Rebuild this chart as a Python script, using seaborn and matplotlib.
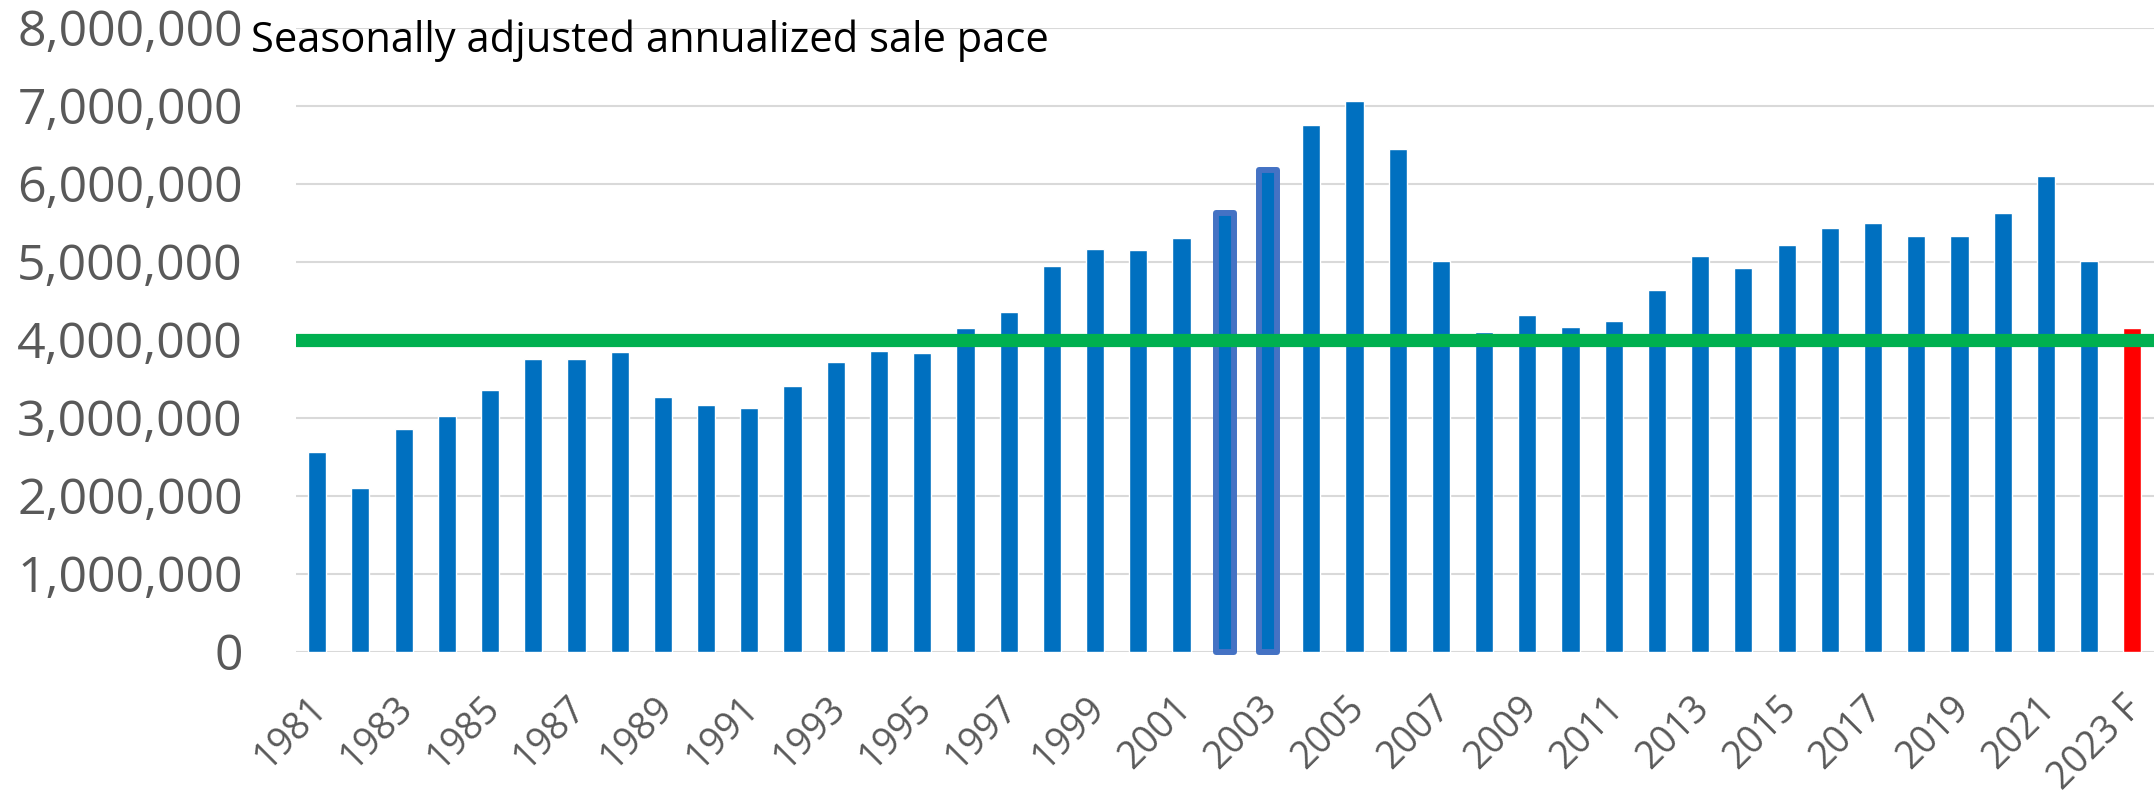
import pandas as pd
import seaborn as sns
import matplotlib.pyplot as plt
from matplotlib.ticker import FuncFormatter
from matplotlib.transforms import ScaledTranslation

# Data
years = [str(y) for y in range(1981, 2023)] + ["2023 F"]
sales = [2560000, 2100000, 2860000, 3020000, 3360000, 3750000, 3750000, 3840000,
         3270000, 3160000, 3130000, 3410000, 3720000, 3860000, 3830000, 4150000,
         4360000, 4940000, 5160000, 5150000, 5310000, 5630000, 6180000, 6750000,
         7060000, 6450000, 5010000, 4100000, 4320000, 4160000, 4240000, 4640000,
         5070000, 4920000, 5220000, 5430000, 5490000, 5330000, 5330000, 5620000,
         6100000, 5010000, 4150000]
highlight_years = ["2002", "2003"]
forecast_year = "2023 F"
benchmark = 4000000
title = "Seasonally adjusted annualized sale pace"

df = pd.DataFrame({"year": years, "sales": sales})
palette = {y: ("#ff0000" if y == forecast_year else "#0070c0") for y in years}

sns.set_style("white")
plt.rcParams["font.family"] = ["Open Sans", "DejaVu Sans"]

fig = plt.figure(figsize=(21.54, 7.98), dpi=100)
ax = fig.add_axes([0.1372, 0.1833, 0.8628, 0.782])

sns.barplot(data=df, x="year", y="sales", hue="year", palette=palette,
            legend=False, width=0.42, saturation=1, ax=ax)

# outline on the highlighted bars
for patch, y in zip(ax.patches, years):
    if y in highlight_years:
        patch.set_edgecolor("#4472c4")
        patch.set_linewidth(4.3)
        patch.set_joinstyle("round")
        patch.set_clip_on(False)

ax.axhline(benchmark, color="#00b050", lw=9.5, zorder=5)

ax.set_ylim(0, 8000000)
ax.set_xlim(-0.5, len(years) - 0.5)
ax.set_yticks(range(0, 8000001, 1000000))
ax.yaxis.set_major_formatter(FuncFormatter(lambda v, p: f"{v:,.0f}"))
ax.set_xticks(range(0, len(years), 2))
ax.set_xticklabels(years[::2], rotation=45, ha="right", rotation_mode="anchor")

ax.grid(axis="y", color="#d9d9d9", lw=1.5)
ax.grid(axis="x", visible=False)
ax.set_axisbelow(True)
for s in ax.spines.values():
    s.set_visible(False)
ax.set_xlabel("")
ax.set_ylabel("")
ax.tick_params(axis="y", length=0, pad=38, labelsize=36, labelcolor="#595959")
ax.tick_params(axis="x", length=0, pad=27, labelsize=27, labelcolor="#595959")

# nudge the rotated year labels a bit left so the last one fits
shift = ScaledTranslation(-7 / 72, 0, fig.dpi_scale_trans)
for lbl in ax.get_xticklabels():
    lbl.set_transform(lbl.get_transform() + shift)

fig.text(0.1165, 0.949, title, fontsize=30, color="black", va="center", ha="left")

fig.savefig("out.png", dpi=100)
